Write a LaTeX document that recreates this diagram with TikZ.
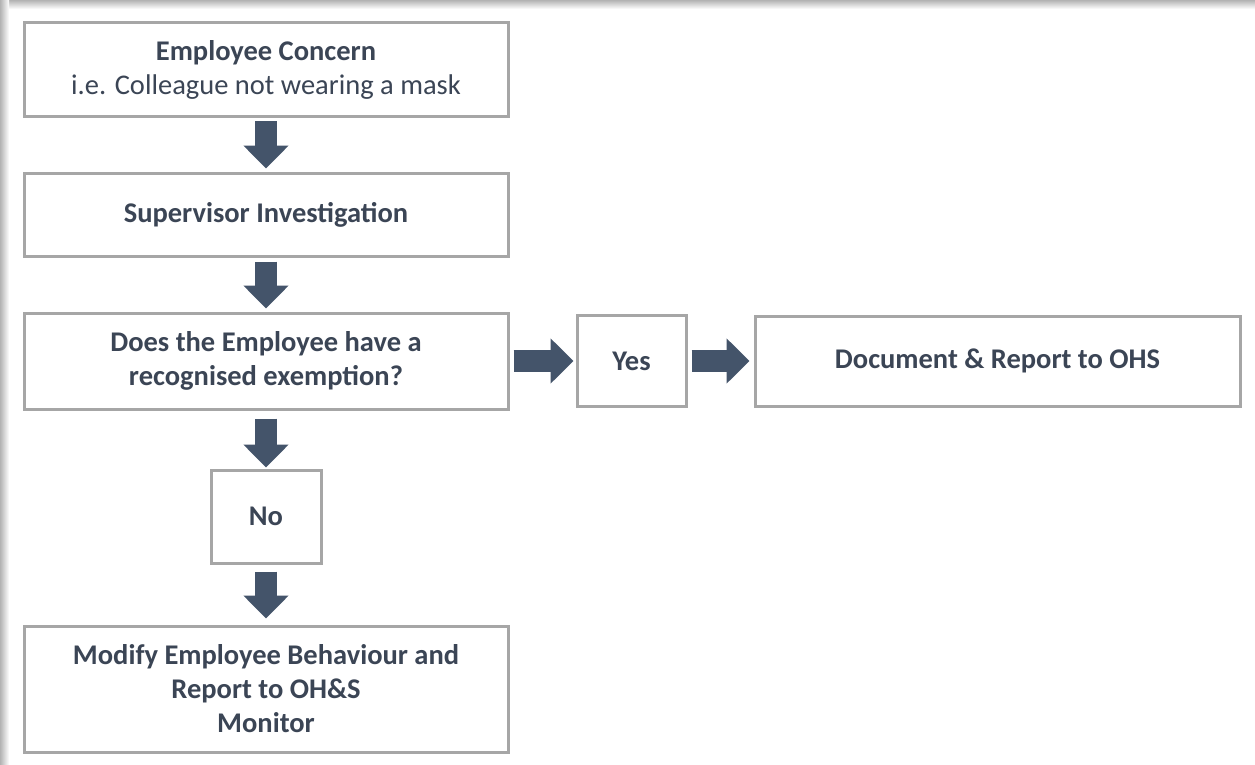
\documentclass[tikz,border=0pt]{standalone}
\usepackage{fontspec}
\setmainfont{Carlito}
\usetikzlibrary{arrows.meta,positioning}
\definecolor{boxgray}{RGB}{166,166,166}
\definecolor{slate}{RGB}{68,84,106}
\definecolor{inkc}{RGB}{59,69,85}

\begin{document}
\begin{tikzpicture}[x=1pt,y=-1pt,on grid,
    box/.style={draw=boxgray,line width=3pt,fill=white,inner sep=0pt,align=center,
      text=inkc,font=\fontsize{28.5}{34}\selectfont\bfseries},
    bigbox/.style={box,minimum width=484pt},
    fat/.style={draw=slate,line width=22pt,-{Triangle[length=23pt,width=44pt]}}]

        \useasboundingbox (0,0) rectangle (1255,765);
        \fill[white] (0,0) rectangle (1255,765);
        \shade[top color=gray!60,bottom color=white] (0,0) rectangle (1255,9);
        \shade[left color=gray!60,right color=white] (0,0) rectangle (9,765);

        \node[bigbox,minimum height=94pt] (concern) at (266,70)
            {Employee Concern\\ \mdseries i.e. Colleague not wearing a mask};
        \node[bigbox,minimum height=83pt] (superv) [below=144.5pt of concern] {Supervisor Investigation};
        \node[bigbox,minimum height=96pt] (exempt) [below=146.5pt of superv]
            {Does the Employee have a\\ recognised exemption?};
        \node[box,minimum width=109pt,minimum height=91pt] (yes) [right=365.5pt of exempt] {Yes};
        \node[box,minimum width=485pt,minimum height=90pt] (report) [right=366pt of yes] {Document \& Report to OHS};
        \node[box,minimum width=110pt,minimum height=93pt] (no) [below=155.5pt of exempt] {No};
        \node[bigbox,minimum height=126pt] (modify) [below=172.5pt of no]
            {Modify Employee Behaviour and\\ Report to OH\&S\\ Monitor};

        \draw[fat,shorten <=3pt,shorten >=3pt] (concern) -- (superv);
        \draw[fat,shorten <=4pt,shorten >=3pt] (superv) -- (exempt);
        \draw[fat,shorten <=4pt,shorten >=2pt] (exempt) -- (yes);
        \draw[fat,shorten <=4pt,shorten >=4pt] (yes) -- (report);
        \draw[fat,shorten <=8pt,shorten >=1pt] (exempt) -- (no);
        \draw[fat,shorten <=7pt,shorten >=6pt] (no) -- (modify);

    \end{tikzpicture}
\end{document}
